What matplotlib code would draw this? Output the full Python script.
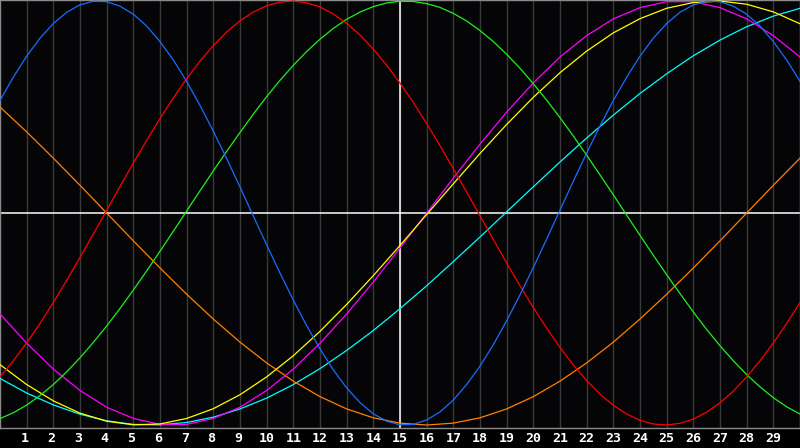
import matplotlib
matplotlib.use("Agg")
import matplotlib.pyplot as plt
from matplotlib.transforms import ScaledTranslation

days = list(range(31))
half_days = [i / 2 for i in range(61)]
tick_days = list(range(1, 30))
today = 15

# cycle values, -1 .. 1 (fast cycles read every half day, slow ones every day)
physical = [0.531, 0.641, 0.740, 0.825, 0.894, 0.947, 0.982, 0.999, 0.997, 0.976,
            0.938, 0.882, 0.809, 0.722, 0.621, 0.508, 0.386, 0.257, 0.123, -0.014,
            -0.150, -0.283, -0.411, -0.531, -0.641, -0.740, -0.825, -0.894, -0.947, -0.982,
            -0.999, -0.997, -0.976, -0.938, -0.882, -0.809, -0.722, -0.621, -0.508, -0.386,
            -0.257, -0.123, 0.014, 0.150, 0.283, 0.411, 0.531, 0.641, 0.740, 0.825,
            0.894, 0.947, 0.982, 0.999, 0.997, 0.976, 0.938, 0.882, 0.809, 0.722, 0.621]
emotional = [-0.773, -0.697, -0.613, -0.521, -0.422, -0.318, -0.209, -0.099, 0.013, 0.125,
             0.236, 0.343, 0.446, 0.543, 0.634, 0.717, 0.790, 0.854, 0.907, 0.948,
             0.978, 0.995, 1.000, 0.992, 0.972, 0.939, 0.895, 0.840, 0.773, 0.697,
             0.613, 0.521, 0.422, 0.318, 0.209, 0.099, -0.013, -0.125, -0.236, -0.343,
             -0.446, -0.543, -0.634, -0.717, -0.790, -0.854, -0.907, -0.948, -0.978, -0.995,
             -1.000, -0.992, -0.972, -0.939, -0.895, -0.840, -0.773, -0.697, -0.613, -0.521, -0.422]
intellectual = [-0.970, -0.942, -0.906, -0.861, -0.809, -0.749, -0.683, -0.610, -0.533, -0.450,
                -0.363, -0.273, -0.180, -0.086, 0.010, 0.105, 0.199, 0.291, 0.380, 0.467,
                0.549, 0.626, 0.697, 0.762, 0.820, 0.871, 0.914, 0.948, 0.974, 0.991,
                0.999, 0.998, 0.988, 0.970, 0.942, 0.906, 0.861, 0.809, 0.749, 0.683,
                0.610, 0.533, 0.450, 0.363, 0.273, 0.180, 0.086, -0.010, -0.105, -0.199,
                -0.291, -0.380, -0.467, -0.549, -0.626, -0.697, -0.762, -0.820, -0.871, -0.914, -0.948]
awareness = [0.500, 0.383, 0.259, 0.131, 0.000, -0.131, -0.259, -0.383, -0.500, -0.609,
             -0.707, -0.793, -0.866, -0.924, -0.966, -0.991, -1.000, -0.991, -0.966, -0.924,
             -0.866, -0.793, -0.707, -0.609, -0.500, -0.383, -0.259, -0.131, 0.000, 0.131, 0.259]
intuitive = [-0.476, -0.614, -0.736, -0.837, -0.916, -0.969, -0.997, -0.997, -0.969, -0.916,
             -0.837, -0.736, -0.614, -0.476, -0.325, -0.165, 0.000, 0.165, 0.325, 0.476,
             0.614, 0.736, 0.837, 0.916, 0.969, 0.997, 0.997, 0.969, 0.916, 0.837, 0.736]
aesthetic = [-0.715, -0.809, -0.886, -0.944, -0.982, -0.999, -0.995, -0.969, -0.923, -0.857,
             -0.773, -0.673, -0.558, -0.431, -0.295, -0.153, -0.007, 0.138, 0.281, 0.418,
             0.546, 0.662, 0.764, 0.850, 0.917, 0.966, 0.993, 1.000, 0.985, 0.949, 0.893]
spiritual = [-0.780, -0.849, -0.905, -0.949, -0.980, -0.997, -0.999, -0.988, -0.963, -0.924,
             -0.873, -0.809, -0.734, -0.648, -0.554, -0.451, -0.343, -0.229, -0.113, 0.006,
             0.124, 0.241, 0.354, 0.462, 0.564, 0.657, 0.742, 0.816, 0.879, 0.929, 0.966]

series = [
    (days, spiritual, "#00ffff"),
    (days, awareness, "#ff8000"),
    (days, intuitive, "#ff00ff"),
    (days, aesthetic, "#ffff00"),
    (half_days, intellectual, "#1ef01e"),
    (half_days, emotional, "#ff0000"),
    (half_days, physical, "#1a6cff"),
]

fig = plt.figure(figsize=(8, 4.48), dpi=100, facecolor="black")
ax = fig.add_axes([0, 20 / 448, 1, 428 / 448])
ax.set_facecolor("#050507")

for d in tick_days:
    ax.axvline(d, color="#3a3a3a", lw=1, zorder=1)
ax.axvline(today, color="white", lw=1.1, zorder=2)
ax.axhline(0, color="white", lw=1.1, zorder=2)

for xs, vals, col in series:
    ax.plot(xs, vals, color=col, lw=0.9, zorder=3)

ax.set_xlim(0, 30)
ax.set_ylim(-1.014, 1.005)
ax.set_yticks([])
ax.set_xticks(tick_days)
ax.set_xticklabels([str(d) for d in tick_days], color="white",
                   fontfamily="DejaVu Sans Mono", fontweight="bold", fontsize=9.5)
ax.tick_params(axis="x", length=0, pad=3)
for lbl, d in zip(ax.get_xticklabels(), tick_days):
    if d < 10:
        lbl.set_transform(lbl.get_transform() + ScaledTranslation(-2 / 100, 0, fig.dpi_scale_trans))
for s in ax.spines.values():
    s.set_color("#8a8a8a")
    s.set_linewidth(1)

fig.savefig("out.png", dpi=100, facecolor="black")
